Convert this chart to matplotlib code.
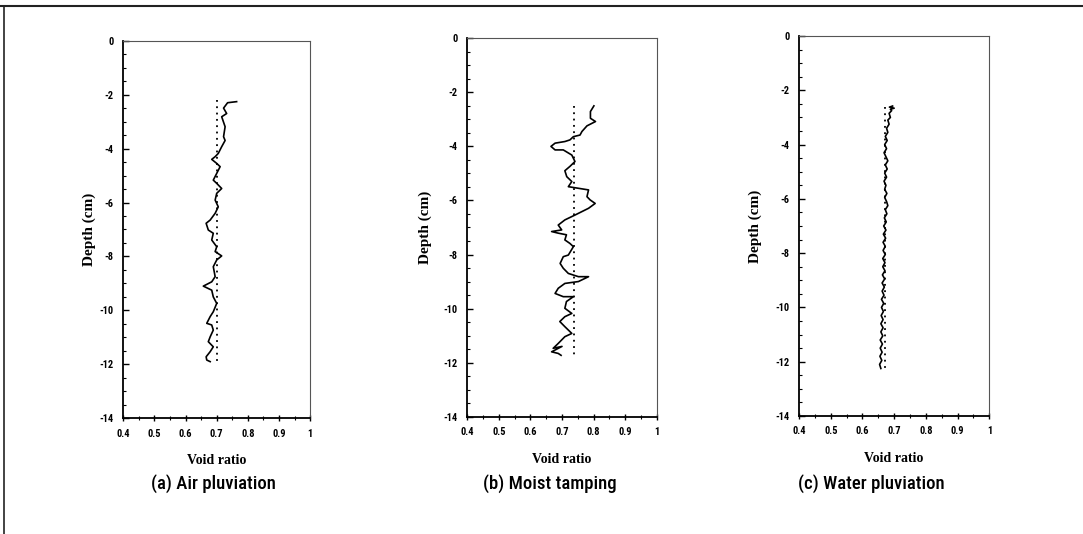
import matplotlib.pyplot as plt
from matplotlib.lines import Line2D
from matplotlib.ticker import MultipleLocator
from matplotlib import font_manager

plt.rcParams["axes.unicode_minus"] = False

# -----------------------------
# DATA
# -----------------------------
air_depth = [-2.26, -2.30, -2.50, -2.70, -2.82, -3.19, -3.56, -3.70, -3.93, -4.18,
             -4.30, -4.40, -4.55, -4.67, -4.92, -5.17, -5.29, -5.48, -5.66, -5.91,
             -6.16, -6.40, -6.65, -6.77, -7.02, -7.14, -7.39, -7.64, -7.82, -7.98,
             -8.13, -8.38, -8.75, -8.94, -9.10, -9.25, -9.50, -9.74, -10.05, -10.23,
             -10.48, -10.54, -10.73, -10.98, -11.16, -11.35, -11.53, -11.72, -11.84, -11.90]
air_void = [0.764, 0.735, 0.722, 0.732, 0.716, 0.727, 0.722, 0.727, 0.716, 0.705,
            0.695, 0.684, 0.700, 0.711, 0.700, 0.689, 0.700, 0.716, 0.700, 0.695,
            0.705, 0.695, 0.679, 0.666, 0.673, 0.689, 0.684, 0.700, 0.695, 0.716,
            0.700, 0.689, 0.695, 0.684, 0.657, 0.684, 0.689, 0.700, 0.689, 0.679,
            0.668, 0.684, 0.689, 0.679, 0.673, 0.689, 0.679, 0.666, 0.668, 0.679]
air_mean = 0.700
air_range = (-2.2, -11.95)

moist_depth = [-2.50, -2.71, -2.96, -3.08, -3.24, -3.45, -3.58, -3.64, -3.76, -3.82,
               -3.88, -4.00, -4.13, -4.13, -4.32, -4.56, -4.74, -4.90, -5.12, -5.30,
               -5.49, -5.55, -5.61, -5.86, -5.98, -6.11, -6.29, -6.54, -6.72, -6.91,
               -7.09, -7.15, -7.21, -7.27, -7.46, -7.59, -7.71, -8.02, -8.08, -8.33,
               -8.51, -8.70, -8.82, -8.82, -9.00, -9.07, -9.25, -9.44, -9.56, -9.56,
               -9.74, -9.99, -10.18, -10.30, -10.48, -10.67, -10.92, -11.04, -11.29, -11.47,
               -11.40, -11.60, -11.66, -11.73]
moist_void = [0.801, 0.790, 0.790, 0.806, 0.779, 0.763, 0.757, 0.736, 0.725, 0.709,
              0.678, 0.665, 0.678, 0.704, 0.731, 0.741, 0.725, 0.709, 0.715, 0.731,
              0.720, 0.752, 0.784, 0.779, 0.789, 0.805, 0.784, 0.741, 0.709, 0.688,
              0.699, 0.667, 0.688, 0.714, 0.709, 0.725, 0.736, 0.720, 0.704, 0.694,
              0.704, 0.720, 0.752, 0.784, 0.752, 0.709, 0.688, 0.678, 0.704, 0.736,
              0.714, 0.709, 0.731, 0.709, 0.693, 0.709, 0.731, 0.709, 0.688, 0.672,
              0.700, 0.667, 0.688, 0.697]
moist_mean = 0.737
moist_range = (-2.5, -11.76)

water_depth = [-2.58, -2.62, -2.66, -2.70, -2.75, -2.85, -3.00, -3.10, -3.25, -3.40,
               -3.55, -3.70, -3.85, -4.00, -4.15, -4.30, -4.45, -4.60, -4.75, -4.90,
               -5.05, -5.20, -5.35, -5.50, -5.65, -5.80, -5.95, -6.10, -6.25, -6.40,
               -6.55, -6.70, -6.85, -7.00, -7.15, -7.30, -7.45, -7.60, -7.75, -7.90,
               -8.05, -8.20, -8.35, -8.50, -8.65, -8.80, -8.95, -9.10, -9.25, -9.40,
               -9.55, -9.70, -9.85, -10.00, -10.15, -10.30, -10.45, -10.60, -10.75, -10.90,
               -11.05, -11.20, -11.35, -11.50, -11.65, -11.80, -11.95, -12.10, -12.25]
water_void = [0.695, 0.685, 0.700, 0.688, 0.692, 0.684, 0.688, 0.680, 0.684, 0.676,
              0.680, 0.672, 0.678, 0.670, 0.676, 0.668, 0.674, 0.680, 0.672, 0.678,
              0.670, 0.676, 0.668, 0.674, 0.670, 0.677, 0.670, 0.676, 0.680, 0.672,
              0.677, 0.669, 0.675, 0.667, 0.674, 0.666, 0.673, 0.665, 0.672, 0.665,
              0.672, 0.664, 0.671, 0.664, 0.671, 0.663, 0.670, 0.662, 0.669, 0.662,
              0.668, 0.660, 0.667, 0.660, 0.666, 0.659, 0.665, 0.658, 0.665, 0.658,
              0.664, 0.656, 0.663, 0.656, 0.662, 0.655, 0.661, 0.654, 0.658]
water_mean = 0.672
water_range = (-2.6, -12.3)

captions = ["(a) Air pluviation", "(b) Moist tamping", "(c) Water pluviation"]
x_ticks = [0.4, 0.5, 0.6, 0.7, 0.8, 0.9, 1.0]
x_tick_labels = ["0.4", "0.5", "0.6", "0.7", "0.8", "0.9", "1"]
y_ticks = [0, -2, -4, -6, -8, -10, -12, -14]

# -----------------------------
# FONTS: prefer a condensed sans if one happens to be installed
# -----------------------------
installed = {f.name for f in font_manager.fontManager.ttflist}
narrow = [f for f in ["Roboto Condensed", "Liberation Sans Narrow", "Open Sans Condensed"]
          if f in installed] + ["Liberation Sans", "DejaVu Sans"]
serif = ["Liberation Serif", "DejaVu Serif"]
is_condensed = narrow[0] != "Liberation Sans"

# -----------------------------
# LAYOUT
# -----------------------------
fig = plt.figure(figsize=(10.83, 5.34), dpi=100)

# axes rectangles in figure fraction
boxes = [
    [0.1139, 0.2167, 0.1724, 0.7071],
    [0.4315, 0.2197, 0.1749, 0.7086],
    [0.7378, 0.2210, 0.1757, 0.7116],
]
ylabel_x = [-0.145, -0.186, -0.194]
caption_x = [213, 550, 871]

panels = [
    (air_void, air_depth, air_mean, air_range),
    (moist_void, moist_depth, moist_mean, moist_range),
    (water_void, water_depth, water_mean, water_range),
]

for i, (void, depth, mean, rng) in enumerate(panels):
    ax = fig.add_axes(boxes[i])
    ax.plot(void, depth, color="black", lw=1.2)
    ax.plot([mean, mean], list(rng), color="black", lw=1.3, linestyle=(0, (1, 2.5)))

    ax.set_xlim(0.4, 1.0)
    ax.set_ylim(-14, 0)
    ax.set_xticks(x_ticks)
    ax.set_xticklabels(x_tick_labels)
    ax.set_yticks(y_ticks)
    ax.xaxis.set_minor_locator(MultipleLocator(0.05))
    ax.yaxis.set_minor_locator(MultipleLocator(0.5))

    ax.tick_params(axis="x", which="major", direction="inout", length=5, width=1.0, pad=5)
    ax.tick_params(axis="x", which="minor", direction="inout", length=3, width=0.8)
    ax.tick_params(axis="y", which="major", direction="in", length=4, width=1.0, pad=7)
    ax.tick_params(axis="y", which="minor", direction="in", length=2.5, width=0.8)
    for lab in ax.get_xticklabels() + ax.get_yticklabels():
        lab.set_family(narrow)
        lab.set_fontweight("bold")
        lab.set_fontsize(7.5)

    ax.spines["left"].set_linewidth(1.3)
    ax.spines["bottom"].set_linewidth(1.3)
    for side in ("top", "right"):
        ax.spines[side].set_linewidth(0.8)
        ax.spines[side].set_color("#555555")

    ax.set_ylabel("Depth (cm)", family=serif, fontweight="bold", fontsize=11)
    ax.yaxis.set_label_coords(ylabel_x[i], 0.5)
    ax.set_xlabel("Void ratio", family=serif, fontweight="bold", fontsize=10)
    ax.xaxis.set_label_coords(0.5, -0.095)

    fig.text(caption_x[i] / 1083, 1 - 484 / 534, captions[i], family=narrow,
             fontsize=13.5 if is_condensed else 11.5, fontweight="medium",
             ha="center", va="center")

# page frame: top rule and left rule of the scanned page
fig.add_artist(Line2D([0, 1], [1 - 6 / 534, 1 - 6 / 534], color="#222222", lw=1.5))
fig.add_artist(Line2D([4 / 1083, 4 / 1083], [0, 1 - 6 / 534], color="#222222", lw=1.2))

fig.savefig("out.png", dpi=100)
plt.close(fig)
